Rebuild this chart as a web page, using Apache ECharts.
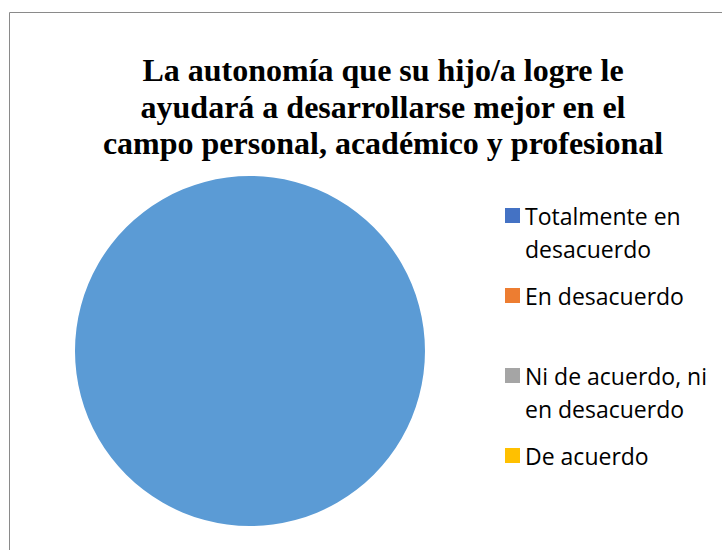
<!DOCTYPE html>
<html>
<head>
<meta charset="utf-8">
<script src="https://cdn.jsdelivr.net/npm/echarts@6/dist/echarts.min.js"></script>
<style>
  html, body { margin: 0; padding: 0; background: #fff; }
  #chart { width: 722px; height: 550px; }
</style>
</head>
<body>
<div id="chart"></div>
<script>
// data
var categories = ['Totalmente en desacuerdo', 'En desacuerdo', 'Ni de acuerdo, ni en desacuerdo', 'De acuerdo', 'Totalmente de acuerdo'];
var values = [0, 0, 0, 0, 30];
var sliceColors = ['#4472C4', '#ED7D31', '#A5A5A5', '#FFC000', '#5B9BD5'];
// legend shows only the first four entries, wrapped as in the original
var legendNames = categories.slice(0, 4);
var legendLines = [['Totalmente en', 'desacuerdo'], ['En desacuerdo'], ['Ni de acuerdo, ni', 'en desacuerdo'], ['De acuerdo']];
var titleText = 'La autonomía que su hijo/a logre le\nayudará a desarrollarse mejor en el\ncampo personal, académico y profesional';

(function() {
  var chart = echarts.init(document.getElementById('chart'), null, { renderer: 'svg' });

  var pieData = categories.map(function(name, i) {
    return { name: name, value: values[i], itemStyle: { color: sliceColors[i] } };
  });

  chart.setOption({
    animation: false,
    title: {
      text: titleText,
      left: 383,
      top: 52,
      padding: 0,
      textAlign: 'center',
      textStyle: {
        fontFamily: "'Times New Roman', 'Liberation Serif', serif",
        fontWeight: 'bold',
        fontSize: 32,
        lineHeight: 36.5,
        color: '#000'
      }
    },
    legend: {
      orient: 'vertical',
      left: 505,
      top: 166,
      padding: 0,
      itemGap: 14,
      itemWidth: 15,
      itemHeight: 15,
      icon: 'rect',
      data: legendNames,
      selectedMode: false,
      formatter: function(name) {
        var lines = legendLines[legendNames.indexOf(name)];
        // a blank first line keeps the marker beside the first text line
        return lines.length > 1 ? '\n' + lines.join('\n') : lines[0];
      },
      textStyle: {
        fontFamily: 'Open Sans',
        fontSize: 23,
        lineHeight: 33,
        color: '#000'
      }
    },
    graphic: [{
      type: 'rect',
      silent: true,
      shape: { x: 9.5, y: 12.5, width: 800, height: 700 },
      style: { fill: 'none', stroke: '#8a8a8a', lineWidth: 1 }
    }],
    series: [{
      type: 'pie',
      center: [250, 351],
      radius: 175,
      startAngle: 90,
      label: { show: false },
      labelLine: { show: false },
      itemStyle: { borderColor: '#fff', borderWidth: 0 },
      emphasis: { disabled: true },
      data: pieData
    }]
  });
})();
</script>
</body>
</html>
